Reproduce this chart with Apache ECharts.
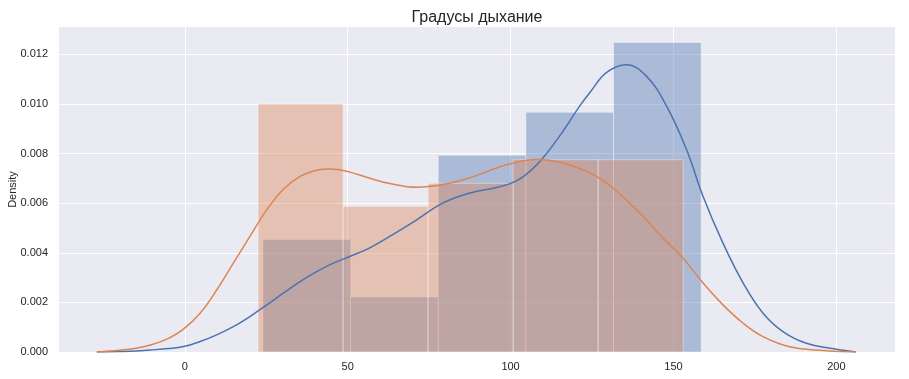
<!DOCTYPE html>
<html>
<head>
<meta charset="utf-8">
<script src="https://cdn.jsdelivr.net/npm/echarts@6/dist/echarts.min.js"></script>
<style>html,body{margin:0;padding:0;background:#fff;}#c{width:909px;height:379px;}</style>
</head>
<body>
<div id="c"></div>
<script>
const titleText = 'Градусы дыхание';
const yName = 'Density';
const xTicks = [0, 50, 100, 150, 200];
const yTicks = [0, 0.002, 0.004, 0.006, 0.008, 0.010, 0.012];

// histogram 1 (blue)
const blueEdges = [24.0, 50.9, 77.8, 104.7, 131.6, 158.5];
const blueHeights = [0.00453, 0.00222, 0.00793, 0.00966, 0.01248];
// histogram 2 (orange)
const orangeEdges = [22.5, 48.6, 74.7, 100.8, 126.9, 153.0];
const orangeHeights = [0.0100, 0.00587, 0.00680, 0.00775, 0.00775];

// KDE blue
const blueKdeX = [-27, -20, -15, -10.6, -5, -0.4, 4.7, 9.8, 14.9, 20, 25.2, 30.2, 35.4, 40.5, 45.6, 50.7, 56.8, 62.9, 71.2, 79.3, 87.5, 95.7, 101.8, 105.9, 110, 116.1, 121.2, 124.3, 129.4, 135.6, 141.7, 147.9, 154, 159.1, 165.2, 171.4, 177.5, 183.6, 190.8, 200, 206];
const blueKdeY = [0, 0.00002, 0.00004, 0.00008, 0.00014, 0.00022, 0.00042, 0.00069, 0.00102, 0.00143, 0.0019, 0.00237, 0.00284, 0.00324, 0.00358, 0.00385, 0.0042, 0.00466, 0.00533, 0.00601, 0.00641, 0.00663, 0.00690, 0.00728, 0.00783, 0.0089, 0.00991, 0.01045, 0.01126, 0.01158, 0.01112, 0.00991, 0.00816, 0.00627, 0.00439, 0.00278, 0.00156, 0.00082, 0.00035, 0.00011, 0];
// KDE orange
const orangeKdeX = [-27, -20, -15, -10.6, -5, -0.4, 4.7, 9.8, 14.9, 20, 25.2, 30.2, 35.4, 40.5, 44.6, 50.7, 56.8, 62.9, 71.2, 79.3, 87.5, 95.7, 101.8, 108, 116.1, 123.3, 127.4, 132, 139.7, 146.8, 152.9, 159.1, 165.2, 171.4, 177.5, 185.7, 195.9, 206];
const orangeKdeY = [0, 0.00007, 0.00015, 0.00028, 0.00055, 0.00092, 0.00156, 0.0025, 0.00358, 0.00466, 0.00574, 0.00655, 0.00708, 0.00733, 0.00738, 0.00725, 0.00700, 0.00679, 0.00664, 0.00675, 0.00702, 0.00742, 0.00765, 0.00776, 0.00762, 0.00728, 0.00700, 0.00655, 0.0056, 0.00459, 0.00379, 0.00278, 0.0019, 0.00116, 0.00062, 0.00021, 0.00006, 0];

const FONT = '"Liberation Sans", Arial, sans-serif';
const TXT = '#262626';

function histData(edges, heights) {
  return heights.map((h, i) => [edges[i], edges[i + 1], h]);
}
function histSeries(edges, heights, color) {
  return {
    type: 'custom',
    data: histData(edges, heights),
    encode: { x: [0, 1], y: 2 },
    renderItem: function (params, api) {
      const p0 = api.coord([api.value(0), api.value(2)]);
      const p1 = api.coord([api.value(1), 0]);
      return {
        type: 'rect',
        shape: { x: p0[0], y: p0[1], width: p1[0] - p0[0], height: p1[1] - p0[1] },
        style: { fill: color, stroke: '#ffffff', lineWidth: 1, opacity: 0.4 }
      };
    },
    silent: true
  };
}
function kdeSeries(xs, ys, color) {
  return {
    type: 'line',
    data: xs.map((x, i) => [x, ys[i]]),
    smooth: 0.4,
    symbol: 'none',
    lineStyle: { color: color, width: 1.5 },
    silent: true
  };
}

const chart = echarts.init(document.getElementById('c'));
chart.setOption({
  animation: false,
  backgroundColor: '#ffffff',
  title: {
    text: titleText,
    left: 472, top: 5, textAlign: 'center',
    textStyle: { fontFamily: FONT, fontSize: 16, fontWeight: 'normal', color: TXT }
  },
  grid: {
    left: 59, right: 14, top: 27, bottom: 27,
    outerBoundsMode: 'none', containLabel: false,
    show: true, backgroundColor: '#EAEAF2', borderWidth: 0
  },
  xAxis: {
    type: 'value', min: -38.6, max: 218,
    axisLine: { show: false }, axisTick: { show: false, customValues: xTicks },
    axisLabel: { customValues: xTicks, color: TXT, fontFamily: FONT, fontSize: 11, margin: 9 },
    splitLine: { show: true, lineStyle: { color: '#ffffff', width: 1 } }
  },
  yAxis: {
    type: 'value', min: 0, max: 0.0131,
    name: yName, nameLocation: 'middle', nameGap: 41, nameRotate: 90, nameMoveOverlap: false,
    nameTextStyle: { fontFamily: FONT, fontSize: 11, color: TXT },
    axisLine: { show: false }, axisTick: { show: false, customValues: yTicks },
    axisLabel: { customValues: yTicks, color: TXT, fontFamily: FONT, fontSize: 11, margin: 11,
      formatter: v => v.toFixed(3) },
    splitLine: { show: true, lineStyle: { color: '#ffffff', width: 1 } }
  },
  series: [
    histSeries(blueEdges, blueHeights, '#4C72B0'),
    kdeSeries(blueKdeX, blueKdeY, '#4C72B0'),
    histSeries(orangeEdges, orangeHeights, '#DD8452'),
    kdeSeries(orangeKdeX, orangeKdeY, '#DD8452')
  ]
});
</script>
</body>
</html>
